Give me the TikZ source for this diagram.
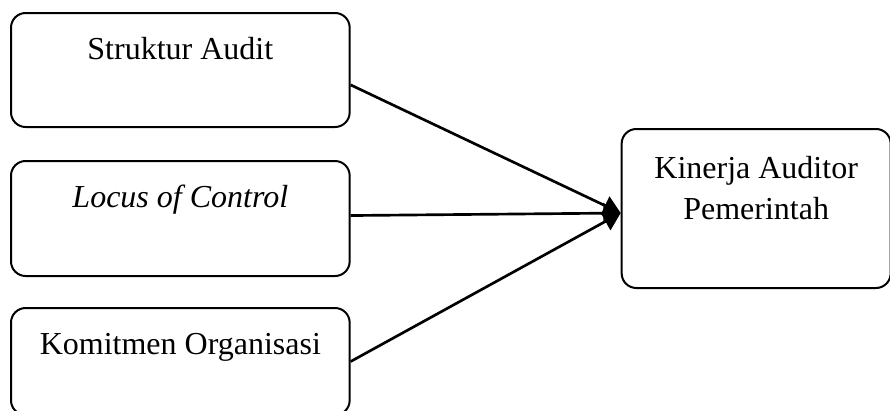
\documentclass[tikz,border=0pt]{standalone}
\usepackage{fontspec}
\setmainfont{Liberation Serif}
\usetikzlibrary{positioning,arrows.meta}

\tikzset{
  var/.style={draw, line width=1.5pt, rounded corners=11pt, inner sep=0pt,
    minimum width=254pt, text height=34.5pt,
    font=\fontsize{24pt}{30.75pt}\selectfont},
  link/.style={line width=2pt, -{Triangle[length=13pt,width=15pt]}}
}

\begin{document}
\begin{tikzpicture}
\useasboundingbox (0,0) rectangle (667.5pt,-308.25pt);
\node[var, text depth=51pt, anchor=north west] (sa) at (7.5pt,-9pt) {Struktur Audit};
\node[var, text depth=51.75pt, below=24pt of sa] (lc) {\textit{Locus of Control}};
\node[var, text depth=45.75pt, below=22.5pt of lc] (ko) {Komitmen Organisasi};
\node[var, minimum width=201.75pt, text height=67.5pt, text depth=51.75pt, align=center,
  right=202.5pt of lc, yshift=7.5pt] (kap) {Kinerja Auditor\\Pemerintah};
\coordinate (tip) at ([yshift=-3.4pt]kap.west);
\draw[link] (sa.-5) -- (tip);
\draw[link] (lc.1.5) -- (tip);
\draw[link] (ko.east) -- (tip);
\end{tikzpicture}
\end{document}
